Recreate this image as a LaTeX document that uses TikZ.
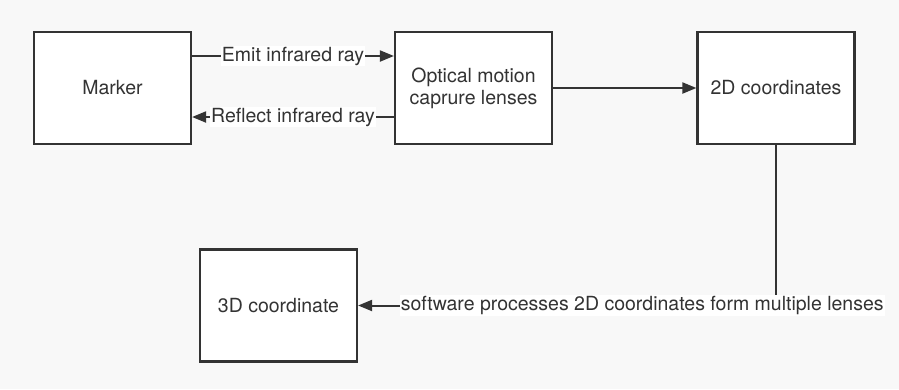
\documentclass[tikz,border=0pt]{standalone}
\usepackage{fontspec}
\setmainfont{TeX Gyre Heros}
\usetikzlibrary{arrows.meta}
\definecolor{ink}{HTML}{333333}
\definecolor{paper}{HTML}{F8F8F8}
\tikzset{
  block/.style={draw=ink, line width=2.2pt, fill=white, text=ink,
    minimum width=157pt, minimum height=112pt, align=center,
    font=\fontsize{19.5}{22}\selectfont, inner sep=0pt},
  link/.style={draw=ink, line width=2pt,
    -{Triangle[length=14pt,width=11pt]}},
  tag/.style={fill=white, text=ink, inner sep=1pt,
    font=\fontsize{19.5}{22}\selectfont}
}
\begin{document}
\begin{tikzpicture}[x=1pt,y=-1pt]
  \fill[paper] (0,0) rectangle (899,389);
  \useasboundingbox (0,0) rectangle (899,389);

  \node[block] (marker)  at (112.5,88)  {Marker};
  \node[block] (optical) at (473.5,88)  {Optical motion\\caprure lenses};
  \node[block] (twod)    at (776,88)    {2D coordinates};
  \node[block] (threed)  at (278.5,305.5) {3D coordinate};

  \draw[link] ([yshift=32pt]marker.east) -- ([yshift=32pt]optical.west)
    node[tag, midway] {Emit infrared ray};
  \draw[link] ([yshift=-29pt]optical.west) -- ([yshift=-29pt]marker.east)
    node[tag, midway] {Reflect infrared ray};
  \draw[link] (optical.east) -- (twod.west);
  \draw[link] (twod.south) |- (threed.east)
    node[tag, pos=0.66] {software processes 2D coordinates form multiple lenses};
\end{tikzpicture}
\end{document}
